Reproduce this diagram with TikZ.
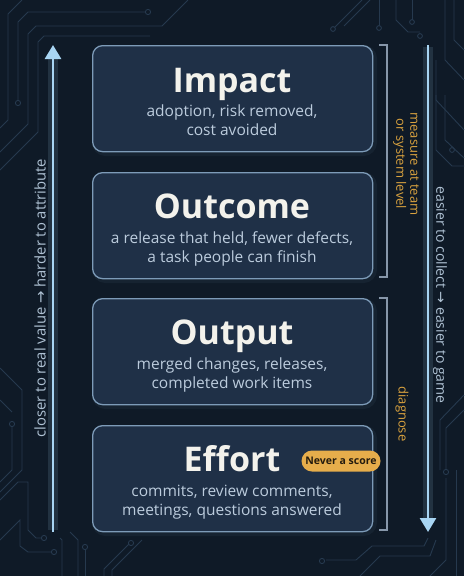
\documentclass[tikz,border=0pt]{standalone}
\usepackage{fontspec}
\setmainfont{Open Sans}
\newfontfamily\symfont{DejaVu Sans}
\usetikzlibrary{arrows.meta}
\definecolor{bg}{HTML}{0F1A27}
\definecolor{boxfill}{HTML}{1F3047}
\definecolor{boxline}{HTML}{7D9BB8}
\definecolor{titlec}{HTML}{F3F2EC}
\definecolor{subc}{HTML}{BCCCDD}
\definecolor{arrowc}{HTML}{A8D5F3}
\definecolor{sidec}{HTML}{AFC2D4}
\definecolor{brackc}{HTML}{8797AA}
\definecolor{orangec}{HTML}{D9A23F}
\definecolor{badgec}{HTML}{E6AD4B}
\definecolor{badget}{HTML}{241B0E}
\definecolor{tracec}{HTML}{26394E}
\begin{document}
\begin{tikzpicture}[x=1pt,y=-1pt,
  tier/.style={draw=boxline, line width=1.3pt, fill=boxfill, rounded corners=10pt, minimum width=280pt, minimum height=106pt, anchor=north west, inner sep=0pt},
  tierglow/.style={draw=boxline, draw opacity=0.07, line width=5pt, rounded corners=11pt, minimum width=280pt, minimum height=106pt, anchor=north west, inner sep=0pt},
  title/.style={text=titlec, font=\fontsize{34}{38}\selectfont\bfseries, anchor=base, inner sep=0pt},
  sub/.style={text=subc, font=\fontsize{15.5}{18.5}\selectfont, align=center, anchor=base, inner sep=0pt},
  side/.style={text=sidec, font=\fontsize{14}{16}\selectfont, inner sep=0pt},
  note/.style={text=orangec, font=\fontsize{13}{14}\selectfont, align=center, inner sep=0pt, rotate=-90},
  bracket/.style={draw=brackc, line width=1.1pt},
  trace/.style={draw=tracec, line width=0.9pt},
  pad/.style={draw=tracec, line width=0.9pt, fill=bg},
  axis/.style={draw=arrowc, line width=2.6pt, -{Triangle[width=16pt,length=14pt]}},
  axisglow/.style={draw=arrowc, draw opacity=0.13, line width=10pt}
]
\useasboundingbox (0,0) rectangle (464,576);
\fill[bg] (0,0) rectangle (464,576);

% ---- circuit traces (background decoration) ----
% top-left
\draw[trace] (18,103) -- (18,22) -- (28,12) -- (145,12);
\draw[pad] (18,103) circle (2.6pt);
\draw[pad] (148,12) circle (2.6pt);
\draw[trace] (0,152) -- (28,124) -- (28,34) -- (36,26) -- (162,26) -- (188,0);
\draw[trace] (0,128) -- (8,120) -- (8,14) -- (22,0);
\draw[trace] (0,170) -- (38,132) -- (38,42) -- (44,36) -- (150,36);
% top-right
\draw[trace] (333,29) -- (362,0);
\draw[pad] (333,29) circle (2.4pt);
\draw[trace] (344,26) -- (370,0);
\draw[trace] (379,28) -- (379,0);
\draw[pad] (379,28) circle (2.4pt);
\draw[trace] (396,0) -- (396,20) -- (408,32) -- (420,32);
\draw[pad] (420,36) circle (2.4pt);
\draw[trace] (412,20) -- (412,0);
\draw[pad] (412,22) circle (2.4pt);
\draw[trace] (445,0) -- (445,60) -- (464,80);
\draw[trace] (454,0) -- (454,40) -- (464,50);
\draw[trace] (436,60) -- (436,100) -- (464,130);
\draw[trace] (436,95) -- (436,150) -- (452,166) -- (464,166);
\draw[pad] (452,150) circle (2.4pt);
\draw[trace] (445,95) -- (445,140) -- (464,158);
% bottom-left
\draw[trace] (0,368) -- (22,390) -- (22,470) -- (0,492);
\draw[pad] (12,424) circle (2.6pt);
\draw[trace] (12,426) -- (12,470) -- (0,482);
\draw[trace] (0,400) -- (12,412);
\draw[trace] (0,500) -- (18,482) -- (28,482) -- (28,530) -- (36,538) -- (44,538);
\draw[pad] (44,538) circle (2.6pt);
\draw[trace] (0,540) -- (20,520) -- (20,546) -- (28,552) -- (52,552);
\draw[pad] (54,552) circle (2.6pt);
\draw[trace] (60,538) -- (62,540) -- (62,576);
\draw[trace] (70,532) -- (78,540) -- (78,576);
\draw[trace] (85,548) -- (85,576);
\draw[pad] (85,547) circle (2.6pt);
\draw[trace] (130,543) -- (104,569) -- (104,576);
\draw[pad] (131,543) circle (2.6pt);
\draw[trace] (142,540) -- (112,570) -- (112,576);
% bottom-right
\draw[trace] (464,395) -- (440,420) -- (440,470);
\draw[trace] (464,410) -- (446,428) -- (446,470);
\draw[pad] (446,472) circle (2.6pt);
\draw[trace] (428,538) -- (424,546) -- (372,546) -- (356,560) -- (326,560);
\draw[pad] (322,561) circle (2.6pt);
\draw[trace] (436,540) -- (430,556) -- (380,556) -- (360,576);
\draw[trace] (446,478) -- (446,560) -- (430,576);
\draw[trace] (456,470) -- (456,576);

% ---- tier boxes ----
\foreach \y in {45,172,298,425}{\node[tierglow] at (92,\y) {};}
\node[tier] (b1) at (92,45) {};
\node[tier] (b2) at (92,172) {};
\node[tier] (b3) at (92,298) {};
\node[tier] (b4) at (92,425) {};

\node[title] (t1) at (232,92) {Impact};
\node[sub] (s1) at (232,135) {adoption, risk removed,\\cost avoided};
\node[title] (t2) at (232,218) {Outcome};
\node[sub] (s2) at (232,262) {a release that held, fewer defects,\\a task people can finish};
\node[title] (t3) at (232,344) {Output};
\node[sub] (s3) at (232,388) {merged changes, releases,\\completed work items};
\node[title] (t4) at (232,471) {Effort};
\node[sub] (s4) at (232,515) {commits, review comments,\\meetings, questions answered};

% ---- badge ----
\node[fill=badgec, rounded corners=10.5pt, minimum width=79pt, minimum height=21pt, inner sep=0pt,
      text=badget, font=\fontsize{10.5}{12}\selectfont\bfseries] (badge) at (341,461) {Never a score};

% ---- brackets ----
\coordinate (k1a) at (379,45);  \coordinate (k1b) at (387,45);
\coordinate (k1c) at (387,277); \coordinate (k1d) at (379,277);
\draw[bracket] (k1a) -- (k1b) -- (k1c) -- (k1d);
\coordinate (k2a) at (379,298); \coordinate (k2b) at (387,298);
\coordinate (k2c) at (387,530); \coordinate (k2d) at (379,530);
\draw[bracket] (k2a) -- (k2b) -- (k2c) -- (k2d);
\node[note] (n1) at (406,164) {measure at team\\or system level};
\node[note] (n2) at (402,414) {diagnose};

% ---- axes ----
\coordinate (la) at (53,532); \coordinate (lb) at (53,45);
\coordinate (ra) at (428,45); \coordinate (rb) at (428,532);
\draw[axisglow] (53,530) -- (53,56);
\draw[axisglow] (428,47) -- (428,520);
\draw[axis] (la) -- (lb);
\draw[axis] (ra) -- (rb);
\node[side, rotate=90, font=\fontsize{14.8}{16}\selectfont] (lt) at (40,298) {closer to real value {\symfont →} harder to attribute};
\node[side, rotate=-90] (rt) at (440,295) {easier to collect {\symfont →} easier to game};
\end{tikzpicture}
\end{document}
